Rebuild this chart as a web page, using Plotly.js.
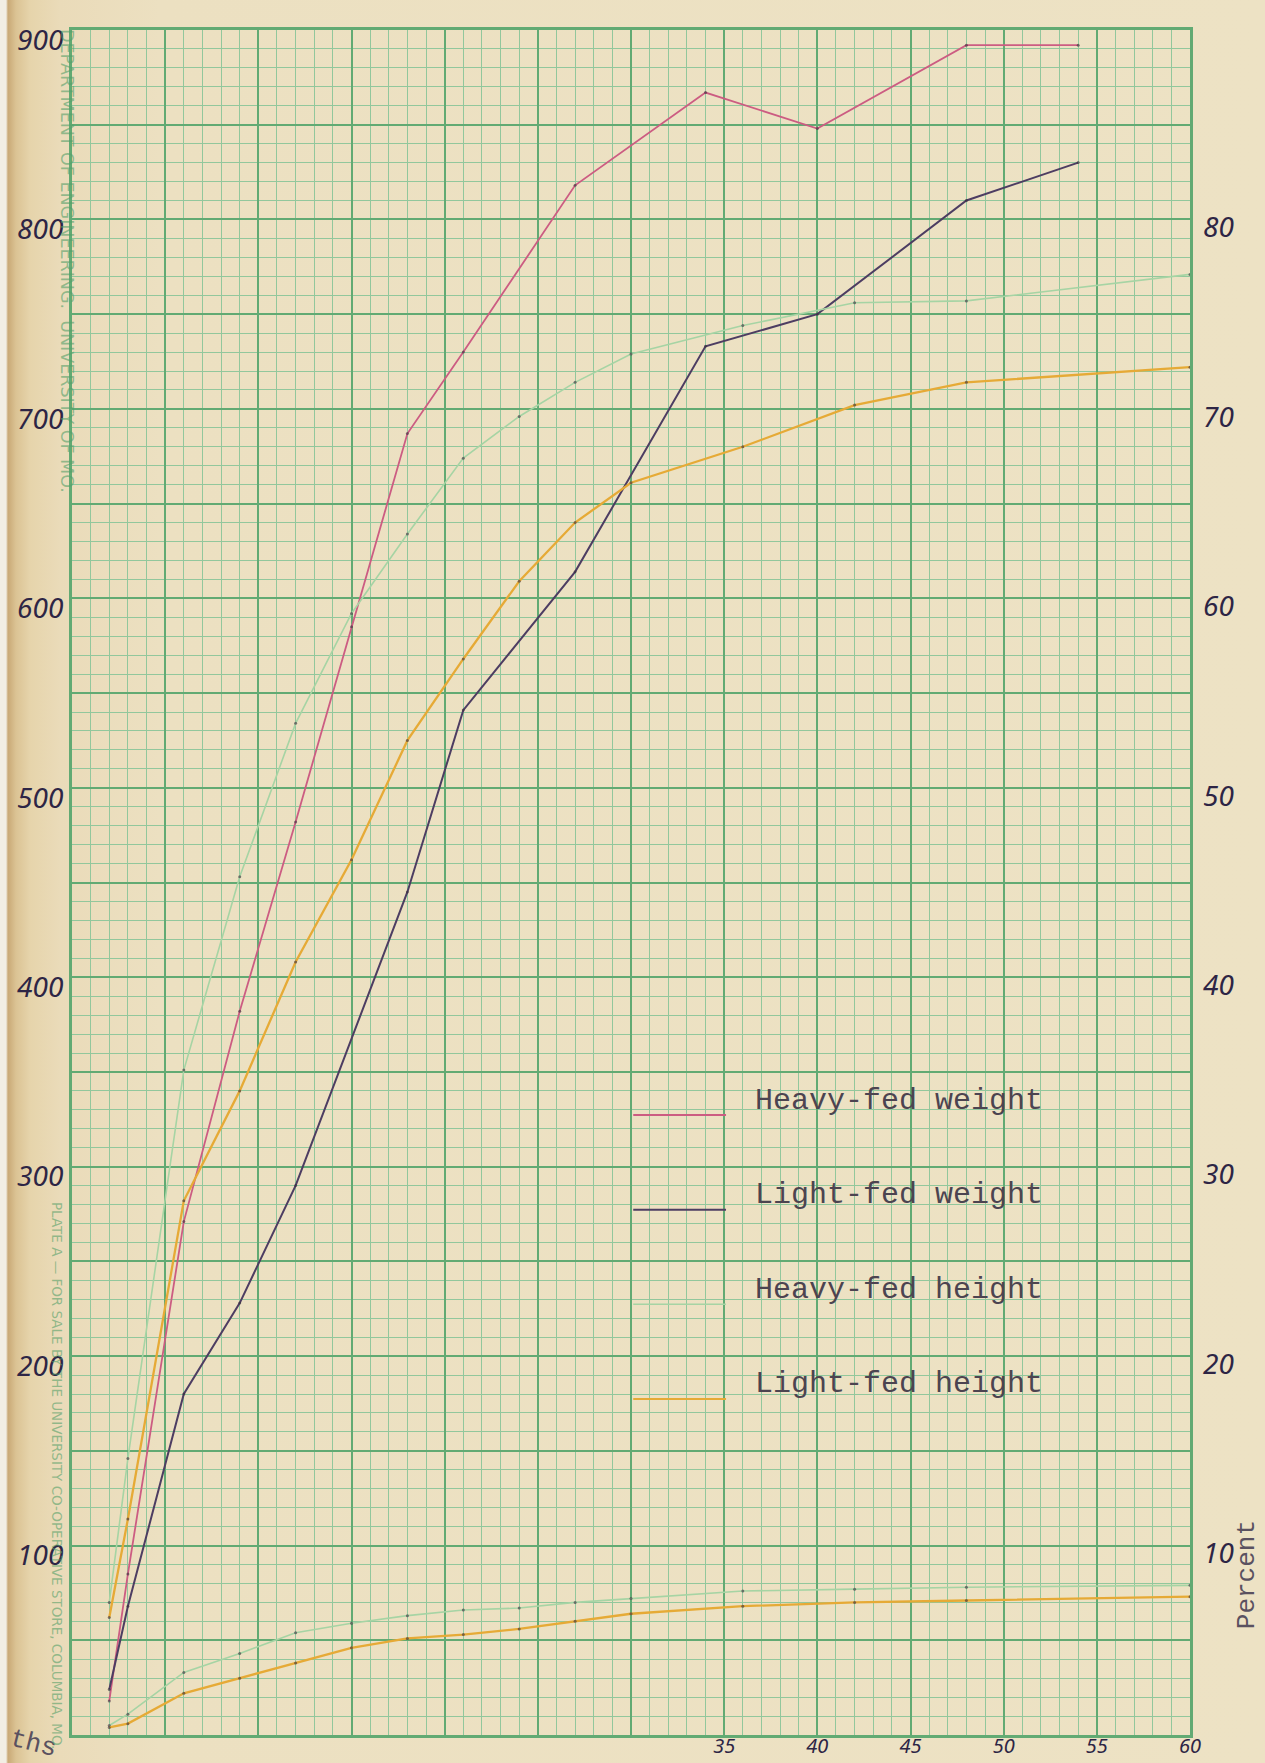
<!DOCTYPE html>
<html>
<head>
<meta charset="utf-8">
<script src="https://cdn.plot.ly/plotly-3.0.1.min.js"></script>
<style>
  html, body { margin: 0; padding: 0; }
  body {
    width: 1265px; height: 1763px; overflow: hidden;
    background: linear-gradient(to right, #f2eee4 0px, #f2eee4 6px, #c9a976 8px, #dbc394 16px, #e6d4ab 30px, #eadbb9 60px, #ece0c1 160px, #ede2c4 100%);
  }
  #chart { width: 1265px; height: 1763px; }
</style>
</head>
<body>
<div id="chart"></div>
<script>
// Age in months at each weighing / measuring
const monthsHeavyWeight = [2, 3, 6, 9, 12, 15, 18, 21, 27, 34, 40, 48, 54];
const monthsLightWeight = [2, 3, 6, 9, 12, 18, 21, 27, 34, 40, 48, 54];
const monthsHeight      = [2, 3, 6, 9, 12, 15, 18, 21, 24, 27, 30, 36, 42, 48, 60];

// Weights (left scale)
const heavyFedWeight = [18, 85, 271, 382, 482, 585, 687, 730, 818, 867, 848, 892, 892];
const lightFedWeight = [24, 68, 180, 228, 290, 445, 541, 614, 733, 750, 810, 830];

// Heights (right scale, percent)
const heavyFedHeight = [7.0, 14.6, 35.1, 45.3, 53.4, 59.2, 63.4, 67.4, 69.6, 71.4, 72.9, 74.4, 75.6, 75.7, 77.1];
const lightFedHeight = [6.2, 11.4, 28.2, 34.0, 40.8, 46.2, 52.5, 56.8, 60.9, 64.0, 66.1, 68.0, 70.2, 71.4, 72.2];
const heavyFedHeightLow = [0.5, 1.1, 3.3, 4.3, 5.4, 5.9, 6.3, 6.6, 6.7, 7.0, 7.2, 7.6, 7.7, 7.8, 7.9];
const lightFedHeightLow = [0.4, 0.6, 2.2, 3.0, 3.8, 4.6, 5.1, 5.3, 5.6, 6.0, 6.4, 6.8, 7.0, 7.1, 7.3];

// Axis ticks
const xTickVals  = [0, 5, 10, 15, 20, 25, 30, 35, 40, 45, 50, 55, 60];
const xTickText  = ['', '', '', '', '', '', '', '35', '40', '45', '50', '55', '60'];
const yTickVals  = [0, 50, 100, 150, 200, 250, 300, 350, 400, 450, 500, 550, 600, 650, 700, 750, 800, 850, 900];
const yTickText  = ['', '', '100', '', '200', '', '300', '', '400', '', '500', '', '600', '', '700', '', '800', '', '900'];
const y2TickVals = [10, 20, 30, 40, 50, 60, 70, 80];
const y2TickText = ['10', '20', '30', '40', '50', '60', '70', '80'];

// Legend
const legendNames  = ['Heavy-fed weight', 'Light-fed weight', 'Heavy-fed height', 'Light-fed height'];
const legendColors = ['#cc5c82', '#4d3d62', '#a6d4a4', '#e6aa36'];

const ink = '#2d2545';
const typeInk = '#4c4450';
const majorGreen = '#62aa73';
const minorGreen = '#92c79c';
const handFont = { family: 'Noto Sans, DejaVu Sans, sans-serif', style: 'italic', size: 28, color: ink };
const typeFont = { family: 'Liberation Mono, DejaVu Sans Mono, monospace', size: 30, color: typeInk };

const dotMarker = { size: 3, color: 'rgba(55,45,60,0.6)' };

function series(x, y, color, width, axis, name) {
  return {
    x: x, y: y, yaxis: axis, name: name, type: 'scatter', mode: 'lines+markers',
    line: { color: color, width: width }, marker: dotMarker, showlegend: false,
    hoverinfo: 'x+y'
  };
}

const traces = [
  series(monthsHeight, heavyFedHeightLow, legendColors[2], 1.6, 'y2', 'Heavy-fed height'),
  series(monthsHeight, lightFedHeightLow, legendColors[3], 2.3, 'y2', 'Light-fed height'),
  series(monthsHeight, heavyFedHeight, legendColors[2], 1.6, 'y2', 'Heavy-fed height'),
  series(monthsHeight, lightFedHeight, legendColors[3], 2.3, 'y2', 'Light-fed height'),
  series(monthsHeavyWeight, heavyFedWeight, legendColors[0], 1.8, 'y', 'Heavy-fed weight'),
  series(monthsLightWeight, lightFedWeight, legendColors[1], 2.0, 'y', 'Light-fed weight')
];

// Hand-drawn key: short sample line, typed label beside it
const keyTop = 0.3636, keyStep = 0.0555;
const shapes = [];
const annotations = [];
legendNames.forEach(function (name, i) {
  const yLine = keyTop - i * keyStep;
  shapes.push({
    type: 'line', xref: 'paper', yref: 'paper',
    x0: 0.502, x1: 0.585, y0: yLine, y1: yLine,
    line: { color: legendColors[i], width: i === 2 ? 1.6 : 2 }
  });
  annotations.push({
    xref: 'paper', yref: 'paper', x: 0.609, y: yLine + 0.0085,
    xanchor: 'left', yanchor: 'middle', showarrow: false,
    text: name, font: typeFont
  });
});

annotations.push(
  {
    xref: 'paper', yref: 'paper', x: 1.0505, y: 0.094, textangle: -90,
    xanchor: 'center', yanchor: 'middle', showarrow: false,
    text: 'Percent', font: { family: typeFont.family, size: 26, color: '#5a5160' }
  },
  {
    xref: 'paper', yref: 'paper', x: -0.034, y: -0.005, textangle: 14,
    xanchor: 'center', yanchor: 'middle', showarrow: false,
    text: 'ths', font: { family: typeFont.family, size: 26, color: '#5a5160' }
  },
  {
    xref: 'paper', yref: 'paper', x: -0.0045, y: 0.8645, textangle: 90,
    xanchor: 'center', yanchor: 'middle', showarrow: false,
    text: 'DEPARTMENT OF ENGINEERING.  UNIVERSITY OF MO.',
    font: { family: 'DejaVu Sans, sans-serif', size: 17.5, color: 'rgba(85,160,105,0.6)' }
  },
  {
    xref: 'paper', yref: 'paper', x: -0.0135, y: 0.152, textangle: 90,
    xanchor: 'center', yanchor: 'middle', showarrow: false,
    text: 'PLATE A \u2014 FOR SALE BY THE UNIVERSITY CO-OPERATIVE STORE, COLUMBIA, MO.',
    font: { family: 'DejaVu Sans, sans-serif', size: 13.5, color: 'rgba(85,160,105,0.6)' }
  }
);

const layout = {
  width: 1265, height: 1763,
  margin: { l: 72, r: 75, t: 30, b: 28, autoexpand: false },
  paper_bgcolor: 'rgba(0,0,0,0)',
  plot_bgcolor: 'rgba(0,0,0,0)',
  showlegend: false,
  xaxis: {
    range: [0, 60], tickmode: 'array', tickvals: xTickVals, ticktext: xTickText,
    showgrid: true, gridcolor: majorGreen, gridwidth: 2,
    minor: { dtick: 1, tick0: 0, showgrid: true, gridcolor: minorGreen, gridwidth: 1 },
    showline: true, mirror: true, linecolor: majorGreen, linewidth: 3,
    zeroline: false, ticks: '', tickfont: Object.assign({}, handFont, { size: 20 }),
    ticklabelstandoff: -9, fixedrange: true
  },
  yaxis: {
    range: [0, 900], tickmode: 'array', tickvals: yTickVals, ticktext: yTickText,
    showgrid: true, gridcolor: majorGreen, gridwidth: 2,
    minor: { dtick: 10, tick0: 0, showgrid: true, gridcolor: minorGreen, gridwidth: 1 },
    showline: true, mirror: true, linecolor: majorGreen, linewidth: 3,
    zeroline: false, ticks: '', tickfont: handFont,
    ticklabelshift: 10, ticklabelstandoff: 0, fixedrange: true
  },
  yaxis2: {
    overlaying: 'y', side: 'right', range: [0, 90],
    tickmode: 'array', tickvals: y2TickVals, ticktext: y2TickText,
    showgrid: false, zeroline: false, showline: false, ticks: '',
    tickfont: handFont, ticklabelshift: 8, ticklabelstandoff: 12, fixedrange: true
  },
  shapes: shapes,
  annotations: annotations
};

Plotly.newPlot('chart', traces, layout, { displayModeBar: false, responsive: false });
</script>
</body>
</html>
